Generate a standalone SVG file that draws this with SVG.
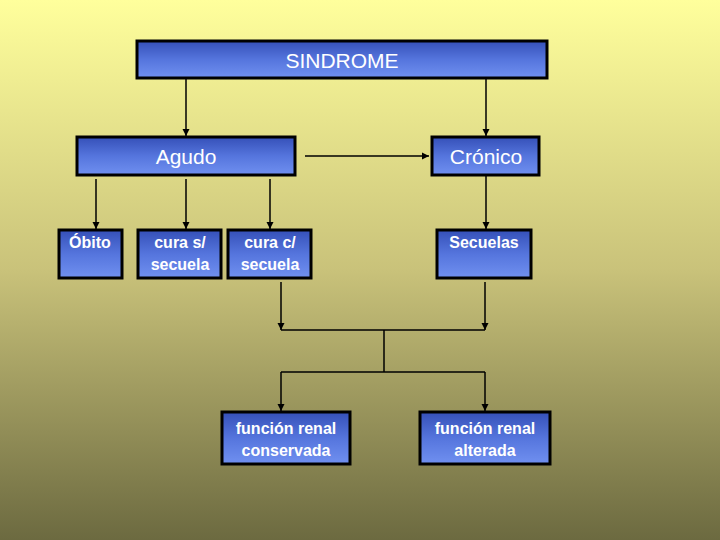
<svg xmlns="http://www.w3.org/2000/svg" width="720" height="540" viewBox="0 0 720 540">
<defs>
<linearGradient id="bg" x1="0" y1="0" x2="0" y2="1"><stop offset="0" stop-color="#ffff9c"/><stop offset="0.5" stop-color="#c9c27a"/><stop offset="1" stop-color="#6c6a40"/></linearGradient>
<linearGradient id="bx" x1="0" y1="0" x2="0" y2="1"><stop offset="0" stop-color="#3550b8"/><stop offset="0.5" stop-color="#5575dd"/><stop offset="1" stop-color="#7090f0"/></linearGradient>
<marker id="a" markerWidth="8" markerHeight="8" refX="7" refY="4" orient="auto" markerUnits="userSpaceOnUse"><path d="M0,0.5 L7,4 L0,7.5z" fill="#000"/></marker>
<style>
.b{fill:url(#bx);stroke:#000;stroke-width:3}
.t{font-family:"Liberation Sans",Arial,sans-serif;fill:#fff;text-anchor:middle}
.h{font-size:21px}
.s{font-size:16px;font-weight:bold}
.c line,.c path{stroke:#000;stroke-width:1.5;fill:none}
</style>
</defs>
<rect width="720" height="540" fill="url(#bg)"/>
<g class="c">
<line x1="186" y1="79" x2="186" y2="136" marker-end="url(#a)"/>
<line x1="486" y1="79" x2="486" y2="136" marker-end="url(#a)"/>
<line x1="305" y1="156" x2="429" y2="156" marker-end="url(#a)"/>
<line x1="96" y1="179" x2="96" y2="229" marker-end="url(#a)"/>
<line x1="186" y1="179" x2="186" y2="229" marker-end="url(#a)"/>
<line x1="270" y1="179" x2="270" y2="229" marker-end="url(#a)"/>
<line x1="486" y1="176" x2="486" y2="229" marker-end="url(#a)"/>
<line x1="281" y1="282" x2="281" y2="330" marker-end="url(#a)"/>
<line x1="485" y1="282" x2="485" y2="330" marker-end="url(#a)"/>
<path d="M281,330 H485 M384,330 V372 M281,372 H485"/>
<line x1="281" y1="372" x2="281" y2="411" marker-end="url(#a)"/>
<line x1="485" y1="372" x2="485" y2="411" marker-end="url(#a)"/>
</g>
<g id="sindrome"><rect class="b" x="137" y="41" width="410" height="37"/><text class="t h" x="342" y="68">SINDROME</text></g>
<g id="agudo"><rect class="b" x="77" y="137" width="218" height="38"/><text class="t h" x="186" y="164">Agudo</text></g>
<g id="cronico"><rect class="b" x="432" y="137" width="107" height="38"/><text class="t h" x="486" y="164">Crónico</text></g>
<g id="obito"><rect class="b" x="59" y="230" width="63" height="48"/><text class="t s" x="90" y="248">Óbito</text></g>
<g id="curas"><rect class="b" x="138" y="230" width="83" height="48"/><text class="t s" x="180" y="248">cura s/</text><text class="t s" x="180" y="270">secuela</text></g>
<g id="curac"><rect class="b" x="228" y="230" width="83" height="48"/><text class="t s" x="270" y="248">cura c/</text><text class="t s" x="270" y="270">secuela</text></g>
<g id="secuelas"><rect class="b" x="437" y="230" width="94" height="48"/><text class="t s" x="484" y="248">Secuelas</text></g>
<g id="conservada"><rect class="b" x="222" y="412" width="128" height="52"/><text class="t s" x="286" y="434">función renal</text><text class="t s" x="286" y="456">conservada</text></g>
<g id="alterada"><rect class="b" x="420" y="412" width="130" height="52"/><text class="t s" x="485" y="434">función renal</text><text class="t s" x="485" y="456">alterada</text></g>
</svg>
